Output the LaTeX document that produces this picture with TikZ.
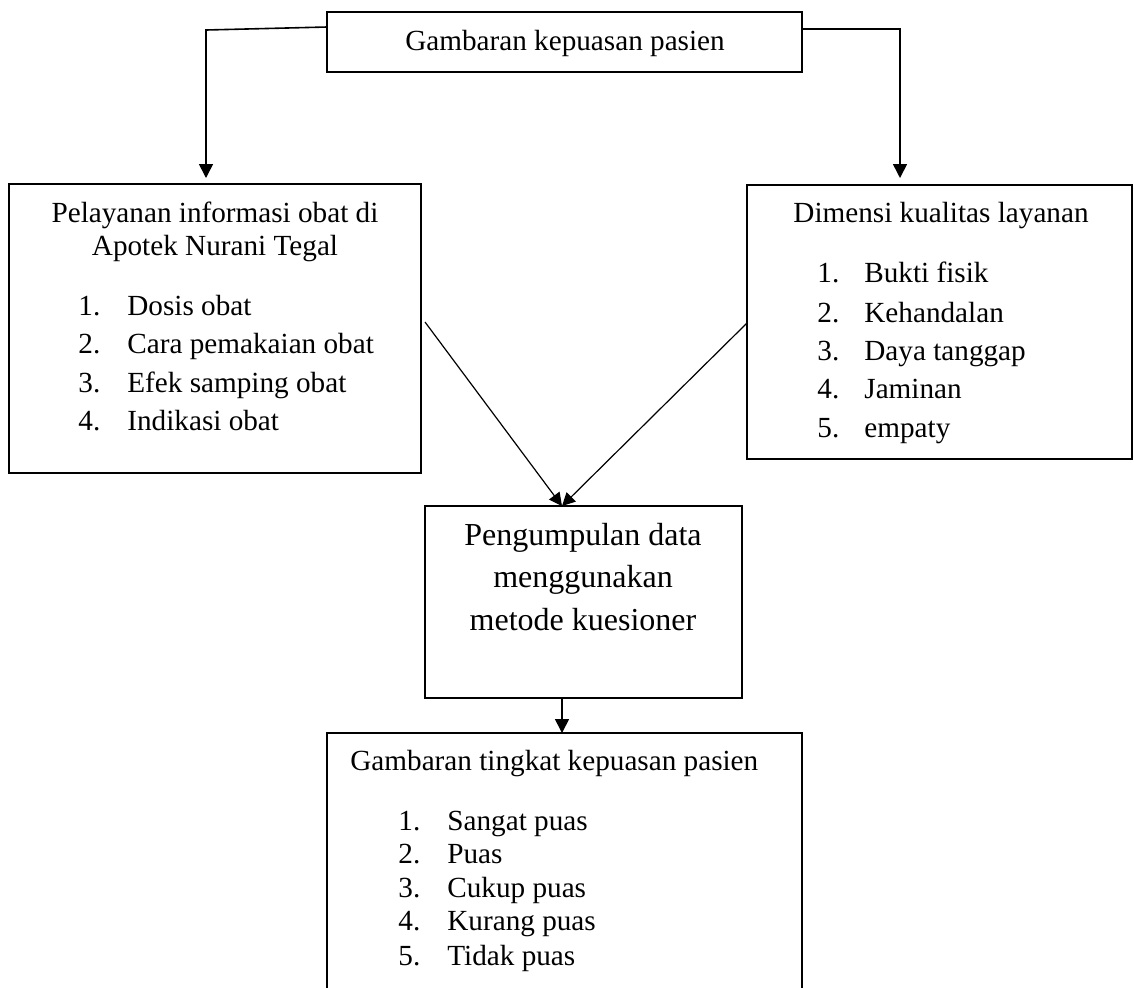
\documentclass[tikz,border=0pt]{standalone}
\usepackage{fontspec}
\setmainfont{Liberation Serif}
\usetikzlibrary{arrows.meta,fit}
\tikzset{
  box/.style={draw, line width=0.8pt, inner sep=0pt, outer sep=0pt},
  lbl/.style={font=\fontsize{14.6}{17}\selectfont, inner sep=0pt, anchor=base},
  lblw/.style={font=\fontsize{14.6}{17}\selectfont, inner sep=0pt, anchor=base west},
  big/.style={font=\fontsize{16}{19}\selectfont, inner sep=0pt, anchor=base},
  conn/.style={line width=0.8pt, -{Triangle[length=7pt,width=7pt]}},
  dconn/.style={line width=0.6pt, -{Triangle[length=6.5pt,width=6.5pt]}}
}
\begin{document}
\begin{tikzpicture}[x=0.5pt,y=-0.5pt]
\useasboundingbox[fill=white] (0,0) rectangle (1134,987);
% boxes
\node[box, fit={(327,12) (802,72)}] (top) {};
\node[box, fit={(9,184) (421,473)}] (left) {};
\node[box, fit={(747,185) (1132,459)}] (right) {};
\node[box, fit={(425,506) (742,698)}] (mid) {};
\node[box, fit={(327,733) (802,1010)}] (bot) {};
% texts
\node[lbl] (t0) at (565,50) {Gambaran kepuasan pasien};
\node[lbl] (lt1) at (215,222) {Pelayanan informasi obat di};
\node[lbl] (lt2) at (215,255) {Apotek Nurani Tegal};
\foreach \n/\y/\t in {1/315/Dosis obat, 2/353/Cara pemakaian obat, 3/392/Efek samping obat, 4/430/Indikasi obat}{
  \node[lblw] (ln\n) at (78,\y) {\n.};
  \node[lblw] (li\n) at (127,\y) {\t};
}
\node[lbl] (rt) at (941,222) {Dimensi kualitas layanan};
\foreach \n/\y/\t in {1/282/Bukti fisik, 2/322/Kehandalan, 3/360/Daya tanggap, 4/398/Jaminan, 5/437/empaty}{
  \node[lblw] (rn\n) at (817,\y) {\n.};
  \node[lblw] (ri\n) at (864,\y) {\t};
}
\node[big] (m1) at (583,545) {Pengumpulan data};
\node[big] (m2) at (583,587) {menggunakan};
\node[big] (m3) at (583,630) {metode kuesioner};
\node[lblw] (bt) at (350,770) {Gambaran tingkat kepuasan pasien};
\foreach \n/\y/\t in {1/830/Sangat puas, 2/863/Puas, 3/897/Cukup puas, 4/930/Kurang puas, 5/965/Tidak puas}{
  \node[lblw] (bn\n) at (398,\y) {\n.};
  \node[lblw] (bi\n) at (447,\y) {\t};
}
% connectors
\coordinate (lc) at (206,30);
\coordinate (rc) at (900,29);
\coordinate (dl) at (425,322);
\coordinate (dr) at (747,323);
\coordinate (mt) at (562,506);
\draw[conn, shorten >=3pt] ([yshift=-7.5pt]top.north west) -- (lc) -- (lc |- left.north);
\draw[conn, shorten >=3.5pt] ([yshift=-8.5pt]top.north east) -- (rc) -- (rc |- right.north);
\draw[dconn] (dl) -- (mt);
\draw[dconn] (dr) -- (mt);
\draw[conn] (mt |- mid.south) -- (mt |- bot.north);
\end{tikzpicture}
\end{document}
